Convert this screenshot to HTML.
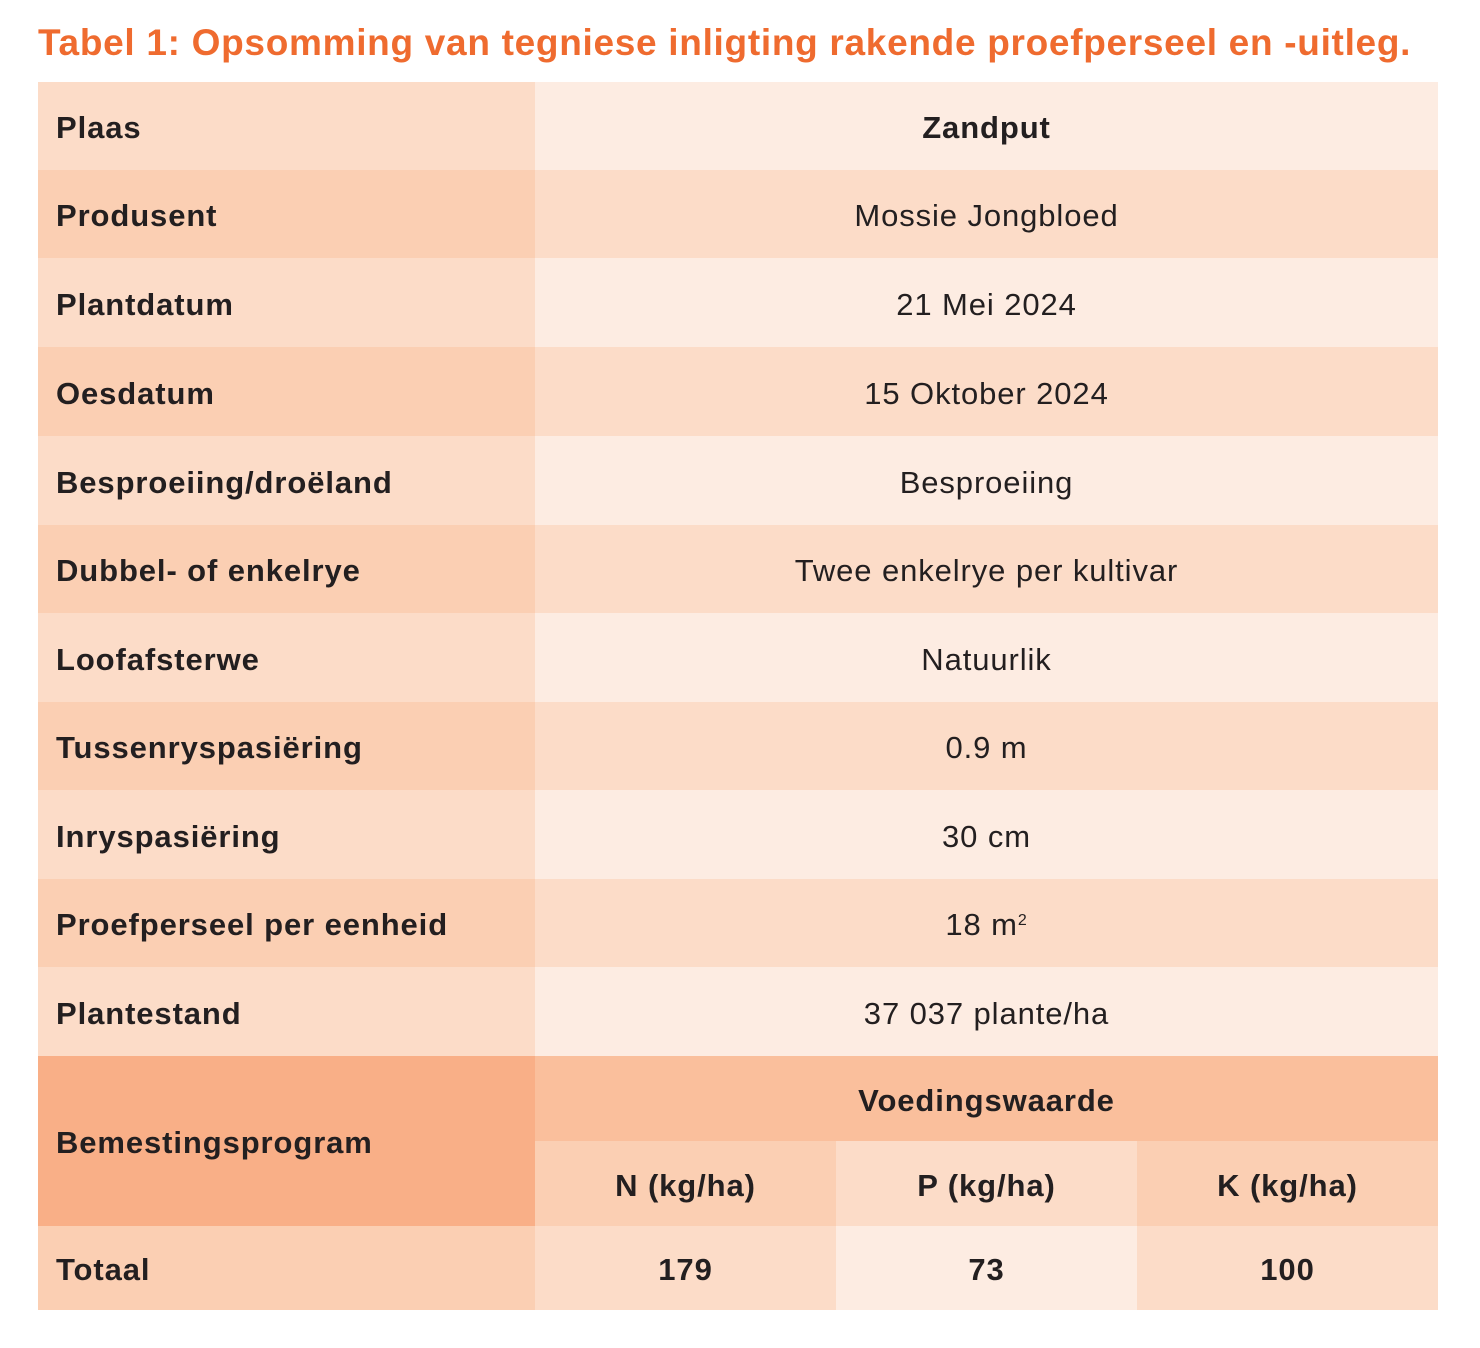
<!DOCTYPE html>
<html><head><meta charset="utf-8"><style>
body{margin:0;width:1480px;height:1348px;background:#fff;position:relative;font-family:"Liberation Sans",sans-serif;color:#231f20;overflow:hidden}
.t{position:absolute;left:38px;top:22px;font-size:37px;font-weight:bold;color:#ef6b2f;white-space:nowrap;letter-spacing:0.7px}
.c{position:absolute;display:flex;align-items:center;font-size:31px;box-sizing:border-box;padding-top:4px;letter-spacing:0.9px}
.l{left:38px;width:497px;padding-left:18px;font-weight:bold}
.r{left:535px;width:903px;justify-content:center}
.m{justify-content:center;font-weight:bold}
</style></head><body>
<div class="t">Tabel 1: Opsomming van tegniese inligting rakende proefperseel en -uitleg.</div>
<div class="c l" style="top:82px;height:88px;background:#fcdcc8">Plaas</div><div class="c r" style="top:82px;height:88px;background:#fdece2;font-weight:bold">Zandput</div>
<div class="c l" style="top:170px;height:88px;background:#fbcfb3">Produsent</div><div class="c r" style="top:170px;height:88px;background:#fcdcc8">Mossie Jongbloed</div>
<div class="c l" style="top:258px;height:89px;background:#fcdcc8">Plantdatum</div><div class="c r" style="top:258px;height:89px;background:#fdece2">21 Mei 2024</div>
<div class="c l" style="top:347px;height:89px;background:#fbcfb3">Oesdatum</div><div class="c r" style="top:347px;height:89px;background:#fcdcc8">15 Oktober 2024</div>
<div class="c l" style="top:436px;height:89px;background:#fcdcc8">Besproeiing/droëland</div><div class="c r" style="top:436px;height:89px;background:#fdece2">Besproeiing</div>
<div class="c l" style="top:525px;height:88px;background:#fbcfb3">Dubbel- of enkelrye</div><div class="c r" style="top:525px;height:88px;background:#fcdcc8">Twee enkelrye per kultivar</div>
<div class="c l" style="top:613px;height:89px;background:#fcdcc8">Loofafsterwe</div><div class="c r" style="top:613px;height:89px;background:#fdece2">Natuurlik</div>
<div class="c l" style="top:702px;height:88px;background:#fbcfb3">Tussenryspasiëring</div><div class="c r" style="top:702px;height:88px;background:#fcdcc8">0.9 m</div>
<div class="c l" style="top:790px;height:89px;background:#fcdcc8">Inryspasiëring</div><div class="c r" style="top:790px;height:89px;background:#fdece2">30 cm</div>
<div class="c l" style="top:879px;height:88px;background:#fbcfb3">Proefperseel per eenheid</div><div class="c r" style="top:879px;height:88px;background:#fcdcc8">18 m<sup style="font-size:16px;position:relative;top:-4px">2</sup></div>
<div class="c l" style="top:967px;height:89px;background:#fcdcc8">Plantestand</div><div class="c r" style="top:967px;height:89px;background:#fdece2">37 037 plante/ha</div>
<div class="c l" style="top:1056px;height:170px;background:#f9af87">Bemestingsprogram</div>
<div class="c r m" style="top:1056px;height:85px;background:#fabf9c">Voedingswaarde</div>
<div class="c m" style="left:535px;width:301px;top:1141px;height:85px;background:#fbcfb3">N (kg/ha)</div>
<div class="c m" style="left:836px;width:301px;top:1141px;height:85px;background:#fcdcc8">P (kg/ha)</div>
<div class="c m" style="left:1137px;width:301px;top:1141px;height:85px;background:#fbcfb3">K (kg/ha)</div>
<div class="c l" style="top:1226px;height:84px;background:#fbcfb3">Totaal</div>
<div class="c m" style="left:535px;width:301px;top:1226px;height:84px;background:#fcdcc8">179</div>
<div class="c m" style="left:836px;width:301px;top:1226px;height:84px;background:#fdece2">73</div>
<div class="c m" style="left:1137px;width:301px;top:1226px;height:84px;background:#fcdcc8">100</div>
</body></html>
